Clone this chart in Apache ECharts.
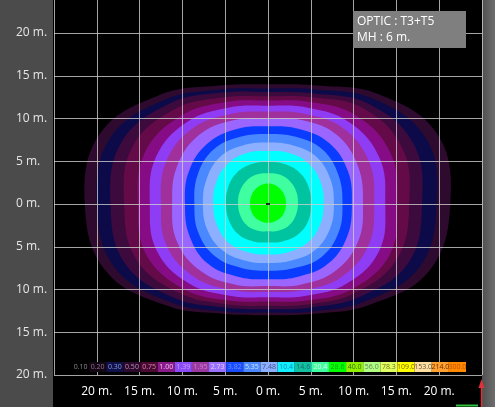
<!DOCTYPE html>
<html>
<head>
<meta charset="utf-8">
<script src="https://cdn.jsdelivr.net/npm/echarts@6/dist/echarts.min.js"></script>
<style>
html,body{margin:0;padding:0;background:#000;}
#c{width:495px;height:407px;}
</style>
</head>
<body>
<div id="c"></div>
<script>
// ---- axis ticks ----
const X_TICKS = [-20, -15, -10, -5, 0, 5, 10, 15, 20];
const X_TICK_LABELS = ['20 m.', '15 m.', '10 m.', '5 m.', '0 m.', '5 m.', '10 m.', '15 m.', '20 m.'];
const Y_TICKS = [-20, -15, -10, -5, 0, 5, 10, 15, 20];
const Y_TICK_LABELS = ['20 m.', '15 m.', '10 m.', '5 m.', '0 m.', '5 m.', '10 m.', '15 m.', '20 m.'];

// ---- isolux bands (lux level, colour) ----
const BAND_LEVELS = [0.20, 0.30, 0.50, 0.75, 1.00, 1.39, 1.95, 2.73, 3.82, 5.35, 7.48, 10.4, 14.6, 20.4, 28.6];
const BAND_COLORS = ['#2e0a2e', '#0d0a4a', '#3c0a3c', '#650a48', '#860c86', '#8f3cf5', '#a0309c', '#9a66ff',
                     '#0a3cff', '#4a88ff', '#8cb0ff', '#00ffff', '#00c4a0', '#40ffa0', '#00ff00'];

// contour radii (m), at these directions (deg, counter-clockwise from +x)
const ANGLES_DEG = [0, 22.5, 45, 67.5, 90, 112.5, 135, 157.5, 180, 202.5, 225, 247.5, 270, 292.5, 315, 337.5];
const R_0_20 = [21.3, 21.4, 18.2, 15.0, 14.0, 15.0, 18.0, 21.3, 21.4, 20.5, 16.8, 13.9, 13.0, 13.9, 16.7, 20.4];
const R_0_30 = [19.7, 20.0, 17.4, 14.5, 13.5, 14.5, 17.2, 20.0, 20.0, 19.4, 16.2, 13.6, 12.7, 13.6, 16.1, 19.2];
const R_0_50 = [18.0, 18.4, 16.6, 14.0, 13.1, 14.1, 16.5, 18.6, 18.4, 18.1, 15.5, 13.1, 12.3, 13.1, 15.3, 17.8];
const R_0_75 = [16.5, 17.0, 15.8, 13.5, 12.6, 13.5, 15.6, 17.2, 16.8, 16.7, 14.7, 12.7, 11.9, 12.7, 14.6, 16.4];
const R_1_00 = [15.1, 15.5, 14.6, 12.9, 12.1, 12.9, 14.5, 15.6, 15.2, 15.4, 14.0, 12.2, 11.4, 12.2, 14.0, 15.4];
const R_1_39 = [13.7, 14.1, 13.5, 12.2, 11.5, 12.2, 13.5, 14.2, 13.8, 14.1, 13.1, 11.6, 10.9, 11.6, 13.1, 14.1];
const R_1_95 = [12.4, 12.8, 12.5, 11.4, 10.8, 11.4, 12.5, 12.9, 12.5, 12.8, 12.1, 10.9, 10.3, 10.9, 12.1, 12.7];
const R_2_73 = [11.1, 11.4, 11.4, 10.6, 10.0, 10.6, 11.4, 11.5, 11.2, 11.5, 11.1, 10.2, 9.6, 10.2, 11.1, 11.4];
const R_3_82 = [9.8, 10.1, 10.1, 9.5, 9.1, 9.5, 10.0, 10.0, 9.7, 9.9, 9.9, 9.2, 8.8, 9.2, 9.9, 10.0];
const R_5_35 = [8.7, 8.9, 9.0, 8.5, 8.2, 8.5, 9.0, 8.9, 8.6, 8.8, 8.7, 8.1, 7.8, 8.1, 8.8, 8.9];
const R_7_48 = [7.7, 7.85, 7.9, 7.45, 7.2, 7.45, 7.85, 7.75, 7.6, 7.7, 7.6, 7.15, 6.9, 7.15, 7.7, 7.8];
const R_10_4 = [6.5, 6.65, 6.7, 6.45, 6.2, 6.45, 6.65, 6.55, 6.4, 6.45, 6.45, 6.1, 5.9, 6.1, 6.45, 6.55];
const R_14_6 = [5.0, 5.15, 5.2, 5.05, 4.9, 5.05, 5.15, 5.05, 4.9, 4.95, 4.95, 4.7, 4.5, 4.7, 5.0, 5.1];
const R_20_4 = [3.5, 3.6, 3.7, 3.7, 3.6, 3.7, 3.7, 3.6, 3.5, 3.5, 3.5, 3.35, 3.2, 3.35, 3.5, 3.5];
const R_28_6 = [2.1, 2.15, 2.25, 2.35, 2.4, 2.35, 2.25, 2.15, 2.1, 2.12, 2.17, 2.19, 2.2, 2.19, 2.17, 2.12];
const CONTOUR_RADII = [R_0_20, R_0_30, R_0_50, R_0_75, R_1_00, R_1_39, R_1_95, R_2_73, R_3_82,
                       R_5_35, R_7_48, R_10_4, R_14_6, R_20_4, R_28_6];

const LUMINAIRE = [[0, 0]];

// ---- colour scale legend ----
const LEGEND_LABELS = ['0.10', '0.20', '0.30', '0.50', '0.75', '1.00', '1.39', '1.95', '2.73', '3.82', '5.35', '7.48',
                       '10.4', '14.6', '20.4', '28.6', '40.0', '56.0', '78.3', '109.0', '153.0', '214.0', '300.0'];
const LEGEND_COLORS = ['#000000', '#120812', '#10104a', '#2c0a2c', '#4a0a32', '#8a1a8a', '#8a4af5', '#9a3aa0',
                       '#9a70ff', '#1a4cff', '#4a88ff', '#8cb0ff', '#10f0ff', '#10c0a0', '#40ffa0', '#00ff00',
                       '#90f000', '#b0ff80', '#e0ff60', '#ffff00', '#ffe0a0', '#ffa030', '#ff8a00'];
const LEGEND_TEXT = ['#8a8a8a', '#9a6aa0', '#8a9ad8', '#c08ab8', '#d880b0', '#f0c0f0', '#c8a0ff', '#d080d0',
                     '#e0d0ff', '#6a90ff', '#d0e0ff', '#405080', '#1a8ab0', '#1a6a70', '#e0fff0', '#1a9a1a',
                     '#3a6a00', '#608060', '#707020', '#806000', '#605040', '#603000', '#c05000'];

function tickLabel(ticks, labels) {
  return function (v) {
    const i = ticks.indexOf(Math.round(v * 1000) / 1000);
    return i >= 0 ? labels[i] : '';
  };
}

const chart = echarts.init(document.getElementById('c'), null, {renderer: 'canvas'});
const FONT = '"Open Sans", "Noto Sans", sans-serif';

chart.setOption({
  animation: false,
  backgroundColor: '#000000',
  textStyle: {fontFamily: FONT},
  grid: [
    {left: 54, right: 13, top: 0, bottom: 32},
    {left: 72, top: 362, width: 394, height: 10}
  ],
  xAxis: [
    {
      type: 'value', gridIndex: 0, min: -25, max: 25, interval: 5, z: 3,
      axisLine: {show: false}, axisTick: {show: false},
      splitLine: {show: true, lineStyle: {color: 'rgba(205,205,205,0.8)', width: 1}},
      axisLabel: {color: '#ffffff', fontSize: 12, margin: 10, lineHeight: 14, fontFamily: FONT,
                  formatter: tickLabel(X_TICKS, X_TICK_LABELS)}
    },
    {type: 'category', gridIndex: 1, data: LEGEND_LABELS, show: false}
  ],
  yAxis: [
    {
      type: 'value', gridIndex: 0, min: -20, max: 23.86, interval: 5, z: 3,
      axisLine: {show: false}, axisTick: {show: false},
      splitLine: {show: true, showMaxLine: false, lineStyle: {color: 'rgba(205,205,205,0.8)', width: 1}},
      axisLabel: {color: '#e6e6e6', fontSize: 12, margin: 38, align: 'left', fontFamily: FONT,
                  showMaxLabel: false, formatter: tickLabel(Y_TICKS, Y_TICK_LABELS)}
    },
    {type: 'value', gridIndex: 1, min: 0, max: 1, show: false}
  ],
  graphic: [
    {type: 'rect', z: -100, silent: true, shape: {x: 0, y: 0, width: 53, height: 407}, style: {fill: '#4b4b4b'}},
    {type: 'rect', z: -100, silent: true, shape: {x: 482, y: 0, width: 13, height: 407},
     style: {fill: new echarts.graphic.LinearGradient(0, 0, 1, 0, [{offset: 0, color: '#505050'}, {offset: 1, color: '#6e6e6e'}])}},
    {type: 'rect', z: 50, silent: true, shape: {x: 353, y: 11, width: 113, height: 37}, style: {fill: '#7f7f7f'}},
    {type: 'text', z: 51, silent: true, x: 357, y: 14,
     style: {text: 'OPTIC : T3+T5\nMH : 6 m.', fill: '#ffffff', font: '12px ' + FONT, lineHeight: 16}},
    {type: 'line', z: 50, silent: true, shape: {x1: 481.5, y1: 386, x2: 481.5, y2: 407}, style: {stroke: '#e0303a', lineWidth: 1.5}},
    {type: 'polygon', z: 50, silent: true, shape: {points: [[478.5, 388], [484.5, 388], [481.5, 379]]}, style: {fill: '#e0303a'}},
    {type: 'line', z: 50, silent: true, shape: {x1: 456, y1: 405.5, x2: 478, y2: 405.5}, style: {stroke: '#30c040', lineWidth: 2}}
  ],
  series: [
    {
      type: 'custom', xAxisIndex: 0, yAxisIndex: 0, z: 1,
      data: BAND_LEVELS.map(function (v, i) { return [i, v]; }),
      renderItem: function (params, api) {
        const radii = CONTOUR_RADII[params.dataIndex];
        const pts = radii.map(function (r, k) {
          const a = ANGLES_DEG[k] * Math.PI / 180;
          return api.coord([r * Math.cos(a), r * Math.sin(a)]);
        });
        return {type: 'polygon', shape: {points: pts, smooth: 0.4},
                style: {fill: BAND_COLORS[params.dataIndex], stroke: null}};
      }
    },
    {
      type: 'scatter', xAxisIndex: 0, yAxisIndex: 0, z: 4, data: LUMINAIRE,
      symbol: 'rect', symbolSize: [4, 2], itemStyle: {color: '#000000'}
    },
    {
      type: 'bar', xAxisIndex: 1, yAxisIndex: 1, z: 10, barCategoryGap: '0%',
      data: LEGEND_LABELS.map(function (t, i) {
        return {value: 1, itemStyle: {color: LEGEND_COLORS[i]}, label: {color: LEGEND_TEXT[i]}};
      }),
      label: {show: true, position: 'inside', fontSize: 7, fontFamily: FONT,
              formatter: function (p) { return LEGEND_LABELS[p.dataIndex]; }}
    }
  ]
});
</script>
</body>
</html>
